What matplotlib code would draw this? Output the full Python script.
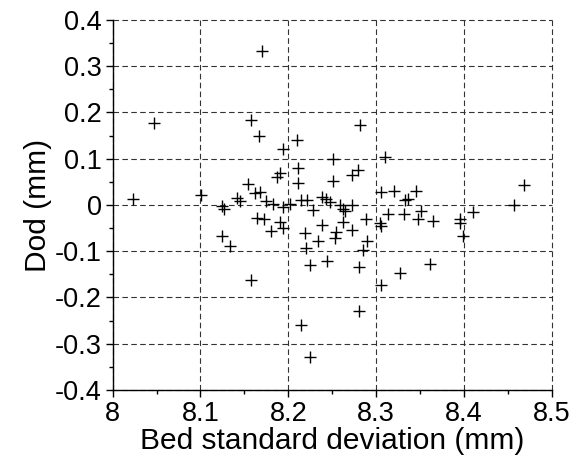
import matplotlib
matplotlib.use("Agg")
import matplotlib.pyplot as plt
from matplotlib.ticker import MultipleLocator

plt.rcParams['font.family'] = ['Liberation Sans', 'DejaVu Sans']

bed_std = [8.023, 8.047, 8.101, 8.125, 8.127, 8.125, 8.134, 8.142, 8.145, 8.154,
           8.158, 8.158, 8.162, 8.168, 8.167, 8.170, 8.164, 8.172, 8.175, 8.180,
           8.183, 8.187, 8.191, 8.191, 8.194, 8.194, 8.194, 8.202, 8.210, 8.211,
           8.211, 8.215, 8.221, 8.215, 8.219, 8.220, 8.225, 8.225, 8.228, 8.234,
           8.238, 8.243, 8.238, 8.244, 8.248, 8.251, 8.251, 8.253, 8.254, 8.259,
           8.262, 8.265, 8.262, 8.272, 8.273, 8.273, 8.279, 8.280, 8.280, 8.282,
           8.285, 8.289, 8.290, 8.304, 8.305, 8.305, 8.306, 8.310, 8.314, 8.320,
           8.327, 8.332, 8.333, 8.336, 8.345, 8.348, 8.351, 8.361, 8.365, 8.395,
           8.396, 8.399, 8.410, 8.457, 8.468]
dod = [0.014, 0.177, 0.022, -0.002, -0.009, -0.068, -0.089, 0.015, 0.009, 0.046,
       0.183, -0.162, 0.025, 0.028, 0.149, 0.333, -0.028, -0.031, 0.009, -0.056,
       0.003, 0.060, 0.069, -0.037, -0.049, 0.120, -0.004, 0.003, 0.141, 0.081,
       0.047, 0.010, 0.010, -0.259, -0.060, -0.093, -0.129, -0.328, -0.011, -0.077,
       0.018, 0.012, -0.044, -0.121, 0.006, 0.099, 0.052, -0.072, -0.059, -0.001,
       -0.008, -0.012, -0.036, 0.000, -0.055, 0.065, 0.076, -0.135, -0.230, 0.174,
       -0.097, -0.031, -0.077, -0.040, -0.045, -0.174, 0.028, 0.103, -0.020, 0.030,
       -0.147, -0.020, 0.010, 0.014, 0.030, -0.031, -0.012, -0.128, -0.034, -0.030,
       -0.038, -0.068, -0.015, 0.000, 0.043]

x_ticks = [8.0, 8.1, 8.2, 8.3, 8.4, 8.5]
x_tick_labels = ['8', '8.1', '8.2', '8.3', '8.4', '8.5']
y_ticks = [-0.4, -0.3, -0.2, -0.1, 0, 0.1, 0.2, 0.3, 0.4]
y_tick_labels = ['-0.4', '-0.3', '-0.2', '-0.1', '0', '0.1', '0.2', '0.3', '0.4']

fig = plt.figure(figsize=(5.77, 4.65), dpi=100)
ax = fig.add_axes([0.1953, 0.1613, 0.7609, 0.7957])

ax.plot(bed_std, dod, linestyle='none', marker='+', markersize=9,
        markeredgewidth=1.0, color='black', zorder=3)

ax.set_xlim(8.0, 8.5)
ax.set_ylim(-0.4, 0.4)
ax.set_xticks(x_ticks)
ax.set_xticklabels(x_tick_labels)
ax.set_yticks(y_ticks)
ax.set_yticklabels(y_tick_labels)
ax.xaxis.set_minor_locator(MultipleLocator(0.05))
ax.yaxis.set_minor_locator(MultipleLocator(0.05))

ax.grid(True, which='major', color='#333333', linestyle=(0, (5, 3)), linewidth=0.8)
for gl in ax.get_xgridlines() + ax.get_ygridlines():
    gl.set_clip_on(False)

ax.spines['top'].set_visible(False)
ax.spines['right'].set_visible(False)
ax.spines['left'].set_linewidth(1.0)
ax.spines['bottom'].set_linewidth(1.0)

ax.tick_params(which='major', direction='out', length=5, width=1, labelsize=19.5, pad=3)
ax.tick_params(which='minor', direction='out', length=3, width=1)

ax.set_xlabel('Bed standard deviation (mm)', fontsize=21.5, labelpad=0)
ax.set_ylabel('Dod (mm)', fontsize=21.5, labelpad=2)

fig.savefig('out.png', dpi=100)
